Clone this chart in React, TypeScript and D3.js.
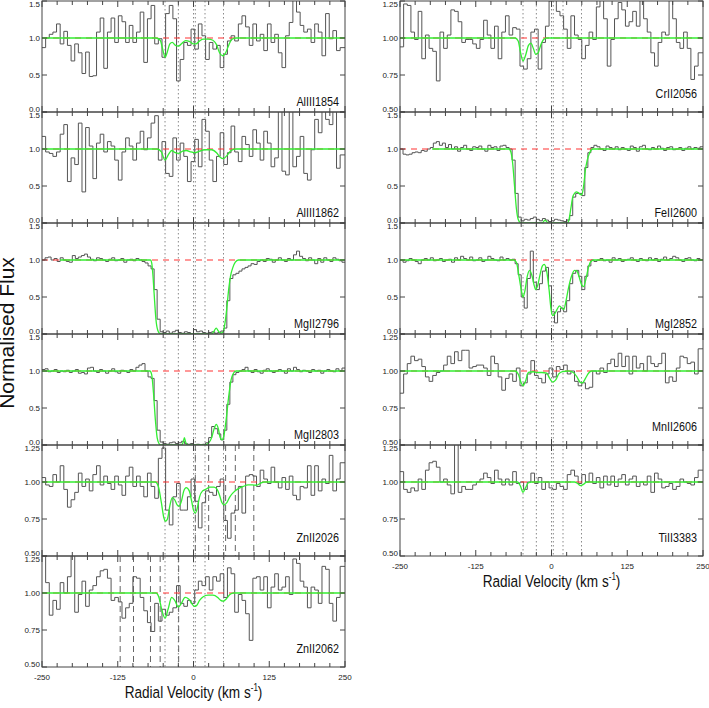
import React from 'react'
import * as d3 from 'd3'

// velocity axis
const velocityTicks = [-250, -125, 0, 125, 250]
const minorStep = 25
const componentVelocities = [-47, -25, 0, 3, 19, 49.5]
const znII2026Blends = [3, 25, 53, 69, 99.5]
const znII2062Blends = [-121, -99, -71, -55, -24.5]
const yTicksWide = [0, 0.5, 1.0, 1.5]
const yTicksNarrow = [0.5, 0.75, 1.0, 1.25]

// normalised flux, pixels from -250 km/s
const alIII1854Flux = [0.87, 1.0, 1.05, 1.08, 1.19, 0.92, 1.09, 0.9, 0.69, 0.92, 0.8, 0.52, 0.81, 0.48, 0.49, 1.08, 1.27, 0.59, 1.08, 1.27, 0.94, 1.3, 1.22, 0.94, 1.17, 0.94, 1.08, 1.35, 0.67, 1.26, 1.44, 0.92, 0.99, 0.74, 1.33, 1.44, 1.26, 0.42, 0.71, 0.94, 0.9, 1.12, 0.85, 1.19, 1.03, 0.71, 0.94, 0.85, 0.9, 0.6, 0.78, 0.96, 1.03, 0.96, 1.19, 1.3, 1.15, 0.9, 1.19, 0.96, 1.05, 0.83, 1.19, 0.94, 1.05, 0.8, 0.6, 1.03, 1.21, 1.52, 1.35, 1.17, 1.08, 1.12, 0.94, 1.19, 1.08, 0.76, 1.33, 0.99, 1.1, 0.83, 0.87]
const alIII1862Flux = [1.17, 0.96, 0.94, 0.9, 0.96, 1.2, 1.33, 0.56, 0.88, 0.79, 1.35, 0.42, 1.29, 1.04, 0.6, 1.08, 1.2, 0.96, 1.1, 1.04, 0.85, 0.58, 0.96, 1.15, 1.04, 0.85, 1.08, 1.24, 0.99, 1.15, 1.35, 1.45, 0.85, 1.1, 0.67, 0.63, 1.15, 0.85, 1.08, 0.9, 0.56, 0.83, 1.13, 0.76, 1.4, 1.24, 0.85, 0.56, 0.9, 1.22, 0.79, 0.95, 1.31, 0.96, 0.83, 1.17, 1.06, 0.9, 1.26, 1.08, 0.85, 1.24, 1.08, 0.76, 0.88, 1.53, 0.7, 0.65, 1.53, 0.76, 0.9, 1.17, 0.67, 0.58, 0.99, 1.4, 1.22, 1.53, 1.4, 1.33, 1.53, 0.74, 0.92]
const mgII2796Flux = [1.0, 1.03, 1.04, 1.0, 1.02, 0.98, 1.03, 1.0, 0.98, 0.97, 1.06, 1.02, 1.04, 1.06, 1.08, 1.04, 1.01, 0.99, 1.03, 1.02, 1.0, 0.98, 1.01, 1.03, 0.99, 1.0, 1.02, 0.97, 1.0, 1.01, 0.99, 1.02, 1.0, 0.98, 0.96, 0.92, 0.88, 0.6, 0.2, 0.03, 0.02, 0.04, 0.01, 0.03, 0.05, 0.02, 0.01, 0.03, 0.02, 0.0, 0.06, 0.03, 0.04, 0.02, 0.01, 0.02, 0.03, 0.01, 0.02, 0.04, 0.08, 0.45, 0.75, 0.8, 0.82, 0.85, 0.88, 0.9, 0.92, 0.95, 0.94, 0.98, 1.0, 0.98, 1.02, 1.01, 0.97, 1.0, 1.03, 1.0, 0.98, 1.02, 1.0, 1.07, 1.12, 1.05, 1.02, 0.99, 1.03, 1.0, 0.95, 1.02, 0.97, 1.03, 1.0, 0.98, 1.03, 1.01, 0.99, 0.97]
const mgII2803Flux = [1.02, 1.03, 0.99, 1.0, 1.02, 0.98, 1.0, 0.99, 1.01, 0.98, 1.0, 1.02, 0.97, 0.98, 0.96, 1.04, 1.05, 1.0, 0.98, 1.02, 1.0, 0.97, 1.0, 1.03, 0.99, 0.97, 1.01, 1.0, 0.98, 1.02, 1.0, 1.05, 1.08, 1.1, 1.0, 0.92, 0.9, 0.6, 0.2, 0.04, 0.02, 0.01, 0.03, 0.04, 0.02, 0.03, 0.05, 0.02, 0.01, 0.02, 0.0, 0.01, 0.0, 0.01, 0.03, 0.1, 0.25, 0.22, 0.15, 0.07, 0.2, 0.55, 0.85, 0.95, 0.98, 1.0, 1.02, 1.05, 1.0, 0.98, 1.02, 0.99, 0.97, 1.01, 1.03, 1.0, 0.98, 1.0, 1.02, 1.0, 0.97, 1.03, 1.0, 1.05, 1.02, 0.99, 1.01, 1.0, 0.98, 1.02, 1.0, 1.01, 0.97, 1.0, 1.02, 1.0, 0.99, 1.03, 1.0, 1.04]
const znII2026Flux = [1.03, 0.98, 0.97, 1.05, 1.0, 1.11, 0.95, 0.83, 0.88, 0.93, 1.06, 0.97, 1.02, 0.94, 1.05, 1.11, 0.98, 1.04, 0.99, 0.95, 1.04, 0.98, 0.91, 1.04, 1.1, 0.97, 1.04, 0.97, 0.9, 1.06, 0.97, 0.89, 1.16, 1.23, 0.81, 0.71, 0.9, 0.99, 0.81, 0.81, 0.9, 1.02, 0.87, 0.69, 0.86, 0.94, 0.93, 0.91, 0.97, 1.02, 0.74, 0.62, 0.79, 0.81, 0.97, 0.79, 1.04, 1.05, 1.04, 0.97, 1.08, 1.02, 0.99, 1.1, 1.0, 0.96, 1.03, 0.95, 1.04, 0.91, 0.88, 0.97, 0.96, 1.11, 0.91, 1.11, 0.94, 1.02, 0.99, 1.18, 0.94, 1.02, 1.13]
const znII2062Flux = [1.27, 1.07, 0.85, 0.95, 0.89, 1.07, 1.0, 1.11, 1.27, 0.87, 0.99, 1.08, 0.91, 1.02, 1.05, 1.11, 1.15, 1.16, 1.1, 0.95, 0.97, 0.94, 0.83, 0.9, 0.93, 1.11, 1.1, 0.97, 0.88, 0.8, 0.74, 0.93, 0.81, 0.89, 0.85, 0.87, 0.9, 1.05, 0.93, 0.91, 0.95, 0.93, 1.02, 1.08, 1.05, 1.11, 1.02, 1.11, 1.08, 1.13, 0.97, 1.17, 1.13, 0.87, 0.99, 0.95, 0.86, 0.68, 1.1, 1.11, 1.02, 1.11, 0.9, 1.04, 1.13, 1.02, 1.04, 1.11, 0.99, 1.23, 1.2, 1.08, 1.04, 0.9, 1.04, 1.02, 0.93, 1.18, 1.16, 0.93, 0.81, 0.97, 1.18]
const crII2056Flux = [0.94, 1.23, 1.22, 1.04, 0.99, 1.18, 0.86, 1.02, 0.93, 0.91, 0.71, 1.04, 0.93, 1.02, 1.19, 1.18, 1.11, 0.97, 0.99, 0.99, 0.96, 0.93, 0.99, 1.12, 1.02, 0.93, 1.08, 0.86, 1.04, 1.15, 1.02, 1.07, 1.06, 0.81, 0.79, 0.86, 1.04, 1.06, 0.79, 0.97, 1.08, 1.25, 1.28, 1.18, 1.15, 1.06, 0.93, 1.15, 1.02, 0.99, 0.86, 0.95, 1.04, 0.99, 1.21, 1.26, 1.13, 0.81, 0.99, 1.13, 1.24, 1.19, 1.08, 1.11, 1.18, 1.08, 1.28, 1.13, 1.04, 0.9, 0.81, 0.97, 1.04, 1.02, 1.28, 1.13, 0.97, 0.93, 1.04, 0.93, 0.72, 0.81, 0.9]
const feII2600Flux = [1.0, 0.93, 0.92, 0.93, 0.95, 0.96, 0.95, 0.98, 0.97, 1.0, 1.02, 1.08, 1.1, 1.05, 1.08, 1.02, 1.06, 1.0, 1.03, 0.97, 1.02, 1.05, 1.0, 0.98, 1.03, 1.02, 1.04, 1.0, 0.97, 1.05, 1.02, 1.03, 0.98, 1.04, 1.05, 1.02, 1.0, 0.85, 0.4, 0.08, 0.03, 0.05, 0.04, 0.06, 0.08, 0.05, 0.03, 0.06, 0.04, 0.02, 0.03, 0.05, 0.04, 0.03, 0.02, 0.04, 0.1, 0.35, 0.4, 0.4, 0.37, 0.75, 0.95, 1.02, 1.05, 1.03, 1.0, 0.98, 1.04, 1.02, 1.0, 1.03, 0.99, 1.02, 1.0, 0.98, 1.04, 1.02, 0.97, 1.03, 1.05, 1.0, 0.99, 1.02, 1.0, 1.04, 1.01, 0.98, 1.02, 1.03, 0.99, 1.0, 1.02, 0.98, 1.01, 1.03, 1.0, 1.02, 1.01, 1.03]
const mgI2852Flux = [1.0, 0.97, 0.99, 1.02, 1.0, 0.98, 0.95, 1.0, 1.02, 1.0, 1.03, 0.99, 1.0, 1.02, 0.98, 1.0, 1.01, 0.97, 1.03, 1.0, 1.05, 1.02, 1.0, 1.04, 0.99, 1.0, 1.03, 0.98, 1.0, 1.05, 1.02, 1.0, 0.99, 1.04, 1.0, 1.02, 1.0, 1.01, 0.95, 0.8, 0.5, 0.35, 0.75, 1.12, 0.7, 0.6, 0.68, 0.85, 0.9, 0.65, 0.3, 0.15, 0.3, 0.35, 0.3, 0.45, 0.68, 0.82, 0.86, 0.78, 0.6, 0.78, 0.92, 1.0, 0.98, 1.0, 1.02, 0.99, 1.0, 0.97, 1.03, 1.0, 1.02, 0.98, 1.0, 1.01, 1.03, 1.0, 0.98, 1.02, 1.0, 0.99, 1.03, 1.0, 1.02, 0.98, 1.01, 1.04, 1.0, 1.02, 1.05, 1.03, 1.0, 0.98, 1.02, 1.03, 1.0, 0.99, 1.02, 1.0]
const mnII2606Flux = [0.85, 0.98, 1.05, 1.1, 1.07, 1.08, 1.03, 0.96, 0.93, 0.97, 0.99, 1.0, 1.04, 1.1, 1.05, 1.13, 1.07, 1.14, 1.14, 1.02, 1.03, 1.04, 1.04, 1.02, 0.97, 1.1, 1.05, 0.96, 0.87, 0.95, 0.98, 0.93, 1.02, 0.9, 0.92, 0.98, 1.07, 0.97, 0.95, 0.92, 0.98, 1.02, 0.96, 1.03, 1.01, 1.04, 0.98, 1.0, 0.93, 0.9, 0.92, 0.88, 0.89, 1.0, 0.98, 1.02, 0.99, 1.05, 1.08, 1.03, 1.12, 1.03, 1.1, 0.98, 1.1, 1.02, 1.05, 1.0, 1.1, 1.05, 1.03, 1.05, 1.12, 0.92, 0.96, 0.93, 1.02, 1.1, 1.09, 1.05, 1.06, 0.98, 1.15]
const tiII3383Flux = [1.07, 0.95, 0.93, 0.96, 0.94, 1.02, 0.95, 1.08, 1.13, 1.14, 1.1, 1.0, 1.02, 0.98, 0.92, 1.3, 0.93, 0.97, 0.95, 0.95, 0.98, 1.0, 1.02, 1.06, 1.03, 0.99, 1.08, 1.02, 0.98, 1.02, 0.98, 1.07, 0.99, 1.0, 0.95, 1.0, 1.06, 0.99, 1.03, 0.95, 1.0, 0.96, 0.95, 0.99, 0.97, 0.95, 1.05, 1.08, 1.04, 0.99, 1.05, 1.0, 1.06, 0.99, 1.03, 0.96, 1.04, 0.98, 1.04, 0.97, 1.02, 1.05, 0.98, 1.02, 1.04, 0.97, 1.0, 0.98, 1.04, 0.93, 1.06, 1.02, 0.96, 0.97, 0.99, 0.95, 0.97, 1.02, 1.0, 0.99, 0.98, 1.03, 1.08]

// fitted profiles, [velocity, flux]
const alIII1854Model = [[-250, 1], [-62, 1], [-55, 0.97], [-50, 0.82], [-47, 0.74], [-44, 0.79], [-39, 0.92], [-35, 0.94], [-30, 0.9], [-25, 0.89], [-19, 0.93], [-13, 0.965], [-6, 0.95], [0, 0.92], [4, 0.92], [10, 0.96], [16, 0.985], [24, 0.985], [32, 0.97], [38, 0.91], [43, 0.8], [48, 0.76], [53, 0.8], [58, 0.9], [63, 0.98], [70, 1], [250, 1]]
const alIII1862Model = [[-250, 1], [-60, 1], [-53, 0.96], [-47, 0.85], [-41, 0.93], [-36, 0.98], [-30, 0.95], [-25, 0.94], [-18, 0.97], [-12, 0.98], [-4, 0.96], [2, 0.95], [10, 0.97], [18, 0.99], [30, 0.99], [38, 0.95], [44, 0.89], [49, 0.87], [55, 0.91], [62, 0.98], [70, 1], [250, 1]]
const mgII2796Model = [[-220, 1], [-71, 1], [-69, 0.96], [-67, 0.8], [-65, 0.55], [-62, 0.2], [-59, 0.05], [-56, 0.01], [-52, 0], [30, 0], [34, 0.04], [37.5, 0.08], [41, 0.04], [45, 0.01], [49, 0.03], [52, 0.15], [55, 0.35], [58, 0.6], [61, 0.78], [65, 0.9], [69, 0.97], [74, 1], [250, 1]]
const mgII2803Model = [[-250, 1], [-72, 1], [-69, 0.95], [-66, 0.7], [-63, 0.35], [-60, 0.1], [-57, 0.02], [-54, 0], [-20, 0], [-17, 0.04], [-15, 0.1], [-13, 0.04], [-10, 0], [18, 0], [24, 0.02], [30, 0.1], [34, 0.22], [37.5, 0.28], [41, 0.22], [44, 0.1], [47, 0.07], [50, 0.12], [54, 0.35], [58, 0.65], [62, 0.88], [66, 0.97], [70, 1], [250, 1]]
const znII2026Model = [[-250, 1], [-63, 1], [-58, 0.97], [-53, 0.86], [-49, 0.76], [-46, 0.735], [-43, 0.75], [-39, 0.84], [-35, 0.895], [-31, 0.88], [-27, 0.845], [-24, 0.835], [-20, 0.87], [-16, 0.94], [-12, 0.962], [-7, 0.94], [-3, 0.87], [0, 0.81], [3, 0.79], [6, 0.82], [10, 0.9], [15, 0.94], [20, 0.95], [27, 0.965], [34, 0.965], [39, 0.95], [43, 0.91], [47, 0.86], [51, 0.845], [55, 0.86], [60, 0.9], [66, 0.93], [74, 0.955], [82, 0.97], [90, 0.98], [97, 0.98], [104, 0.978], [110, 0.99], [116, 1], [250, 1]]
const znII2062Model = [[-250, 1], [-62, 1], [-57, 0.97], [-52, 0.88], [-47, 0.83], [-42, 0.89], [-36, 0.97], [-31, 0.95], [-25, 0.905], [-20, 0.93], [-14, 0.97], [-8, 0.96], [-3, 0.93], [1, 0.91], [5, 0.915], [10, 0.95], [16, 0.975], [24, 0.985], [32, 0.985], [40, 0.97], [45, 0.95], [49, 0.945], [54, 0.96], [60, 0.99], [66, 1], [250, 1]]
const crII2056Model = [[-250, 1], [-60, 1], [-55, 0.98], [-51, 0.9], [-47, 0.845], [-43, 0.88], [-38, 0.95], [-34, 0.965], [-30, 0.93], [-26, 0.89], [-22, 0.9], [-18, 0.95], [-13, 0.99], [-8, 1], [250, 1]]
const feII2600Model = [[-197, 1], [-70, 1], [-67, 0.96], [-64, 0.8], [-61, 0.5], [-58, 0.2], [-55, 0.05], [-52, 0.01], [-48, 0], [-15, 0], [-11, 0.04], [-7, 0.01], [-3, 0], [26, 0], [29, 0.05], [32, 0.2], [35, 0.35], [38, 0.4], [41, 0.42], [44, 0.41], [47, 0.39], [50, 0.38], [53, 0.5], [56, 0.72], [59, 0.85], [63, 0.95], [68, 1], [250, 1]]
const mgI2852Model = [[-250, 1], [-62, 1], [-58, 0.97], [-54, 0.8], [-50, 0.6], [-47, 0.5], [-44, 0.58], [-40, 0.78], [-36, 0.86], [-32, 0.78], [-28, 0.64], [-26, 0.6], [-23, 0.65], [-19, 0.8], [-15, 0.92], [-12, 0.94], [-8, 0.85], [-4, 0.6], [-1, 0.35], [2, 0.25], [5, 0.27], [9, 0.33], [13, 0.38], [17, 0.35], [20, 0.33], [24, 0.45], [28, 0.62], [33, 0.78], [38, 0.86], [42, 0.85], [46, 0.76], [50, 0.66], [53, 0.64], [57, 0.75], [61, 0.9], [65, 0.98], [70, 1], [250, 1]]
const mnII2606Model = [[-250, 1], [-60, 1], [-55, 0.98], [-50, 0.92], [-47, 0.9], [-43, 0.93], [-38, 0.99], [-30, 0.995], [-24, 0.99], [-16, 0.99], [-8, 0.985], [-3, 0.95], [2, 0.925], [7, 0.94], [12, 0.98], [18, 0.995], [28, 1], [36, 0.99], [42, 0.96], [47, 0.925], [51, 0.92], [56, 0.95], [61, 0.985], [66, 1], [250, 1]]
const tiII3383Model = [[-250, 1], [-56, 1], [-51, 0.97], [-47, 0.93], [-43, 0.96], [-38, 0.995], [-33, 1], [38, 1], [43, 0.99], [48, 0.975], [53, 0.985], [58, 1], [250, 1]]

type Panel = {
  name: string
  col: number
  row: number
  yTicks: number[]
  dv: number
  flux: number[]
  model: number[][]
  blends?: number[]
}

const panels: Panel[] = [
  { name: 'AlIII1854', col: 0, row: 0, yTicks: yTicksWide, dv: 6, flux: alIII1854Flux, model: alIII1854Model },
  { name: 'AlIII1862', col: 0, row: 1, yTicks: yTicksWide, dv: 6, flux: alIII1862Flux, model: alIII1862Model },
  { name: 'MgII2796', col: 0, row: 2, yTicks: yTicksWide, dv: 5, flux: mgII2796Flux, model: mgII2796Model },
  { name: 'MgII2803', col: 0, row: 3, yTicks: yTicksWide, dv: 5, flux: mgII2803Flux, model: mgII2803Model },
  { name: 'ZnII2026', col: 0, row: 4, yTicks: yTicksNarrow, dv: 6, flux: znII2026Flux, model: znII2026Model, blends: znII2026Blends },
  { name: 'ZnII2062', col: 0, row: 5, yTicks: yTicksNarrow, dv: 6, flux: znII2062Flux, model: znII2062Model, blends: znII2062Blends },
  { name: 'CrII2056', col: 1, row: 0, yTicks: yTicksNarrow, dv: 6, flux: crII2056Flux, model: crII2056Model },
  { name: 'FeII2600', col: 1, row: 1, yTicks: yTicksWide, dv: 5, flux: feII2600Flux, model: feII2600Model },
  { name: 'MgI2852', col: 1, row: 2, yTicks: yTicksWide, dv: 5, flux: mgI2852Flux, model: mgI2852Model },
  { name: 'MnII2606', col: 1, row: 3, yTicks: yTicksNarrow, dv: 6, flux: mnII2606Flux, model: mnII2606Model },
  { name: 'TiII3383', col: 1, row: 4, yTicks: yTicksNarrow, dv: 6, flux: tiII3383Flux, model: tiII3383Model }
]

const TOP = 1
const PH = 111
const COLS = [[42, 345], [400, 703]]
const ROWS = [6, 5]
const SANS = "'Liberation Sans', Arial, Helvetica, sans-serif"
const GREEN = '#33ee33'
const SQUEEZE = 0.8

const xScale = (col: number) => d3.scaleLinear().domain([-250, 250]).range(COLS[col])

// condensed Helvetica look: squeeze horizontally around the anchor point
function Narrow ({ x, y, size, anchor, children }: { x: number, y: number, size: number, anchor: string, children: React.ReactNode }) {
  return <g transform={`translate(${x},${y}) scale(${SQUEEZE},1)`}>
    <text x={0} y={0} textAnchor={anchor} fontSize={size} fontFamily={SANS} fill='#111'>{children}</text>
  </g>
}

function SpectrumPanel ({ p }: { p: Panel }) {
  const [x0, x1] = COLS[p.col]
  const top = TOP + p.row * PH
  const bottom = top + PH
  const lo = p.yTicks[0]
  const hi = p.yTicks[p.yTicks.length - 1]
  const x = xScale(p.col)
  const y = d3.scaleLinear().domain([lo, hi]).range([bottom, top])
  const fmt = d3.format(hi === 1.5 ? '.1f' : '.2f')
  const pts = p.flux.map((f, i) => [-250 + i * p.dv, f])
  pts.push([Math.max(-250 + p.flux.length * p.dv, 250), p.flux[p.flux.length - 1]])
  const step = d3.line<number[]>().x(d => x(d[0])).y(d => y(d[1])).curve(d3.curveStepAfter)
  const smooth = d3.line<number[]>().x(d => x(d[0])).y(d => y(d[1])).curve(d3.curveMonotoneX)
  const clipId = 'clip-' + p.name
  const xt = d3.range(-250, 251, minorStep)
  return <g>
    <defs>
      <clipPath id={clipId}><rect x={x0} y={top} width={x1 - x0} height={PH} /></clipPath>
    </defs>
    <g clipPath={`url(#${clipId})`}>
      {(p.blends || []).map((v, i) =>
        <line key={i} x1={x(v)} x2={x(v)} y1={top} y2={bottom} stroke='#666' strokeDasharray='6,4' />
      )}
      <path d={step(pts) || ''} fill='none' stroke='#555' strokeWidth={1} />
      <line x1={x0} x2={x1} y1={y(1)} y2={y(1)} stroke='#f33' strokeWidth={1.1} strokeDasharray='6,5' />
      <path d={smooth(p.model) || ''} fill='none' stroke={GREEN} strokeWidth={1.3} />
    </g>
    <rect x={x0} y={top} width={x1 - x0} height={PH} fill='none' stroke='#444' strokeWidth={1} />
    {xt.map(v => {
      const len = velocityTicks.includes(v) ? 6 : 4
      return <g key={v}>
        <line x1={x(v)} x2={x(v)} y1={top} y2={top + len} stroke='#444' />
        <line x1={x(v)} x2={x(v)} y1={bottom} y2={bottom - len} stroke='#444' />
      </g>
    })}
    {p.yTicks.map((t, i) => {
      const dy = i === 0 ? 0 : (i === p.yTicks.length - 1 ? 5.5 : 3)
      return <g key={t}>
        <line x1={x0} x2={x0 + 5} y1={y(t)} y2={y(t)} stroke='#444' />
        <line x1={x1} x2={x1 - 5} y1={y(t)} y2={y(t)} stroke='#444' />
        <text x={x0 - 2} y={y(t) + dy} textAnchor='end' fontSize={8} fontFamily={SANS} fill='#222'>{fmt(t)}</text>
      </g>
    })}
    <Narrow x={x1 - 6} y={y(lo + 0.1) + 1} size={13.5} anchor='end'>{p.name}</Narrow>
  </g>
}

function ColumnFrame ({ col }: { col: number }) {
  const x = xScale(col)
  const bottom = TOP + ROWS[col] * PH
  const cx = (COLS[col][0] + COLS[col][1]) / 2
  return <g>
    {componentVelocities.map((v, i) =>
      <line key={i} x1={x(v)} x2={x(v)} y1={TOP} y2={bottom} stroke='#8a8a8a' strokeDasharray='1.5,2.5' />
    )}
    {velocityTicks.map(v =>
      <text key={v} x={x(v)} y={bottom + 13} textAnchor='middle' fontSize={8} fontFamily={SANS} fill='#222'>{v}</text>
    )}
    <Narrow x={cx} y={bottom + 31} size={17} anchor='middle'>
      Radial Velocity (km s<tspan fontSize={10} dy={-7}>-1</tspan><tspan dy={7}>)</tspan>
    </Narrow>
  </g>
}

export default function App () {
  return <svg width={709} height={708} style={{ position: 'absolute', left: 0, top: 0, background: '#fff' }}>
    <rect width={709} height={708} fill='#fff' />
    <ColumnFrame col={0} />
    <ColumnFrame col={1} />
    {panels.map(p => <SpectrumPanel key={p.name} p={p} />)}
    <text transform='translate(14,333) rotate(-90)' textAnchor='middle' fontSize={21} fontFamily={SANS} fill='#111'>Normalised Flux</text>
  </svg>
}
